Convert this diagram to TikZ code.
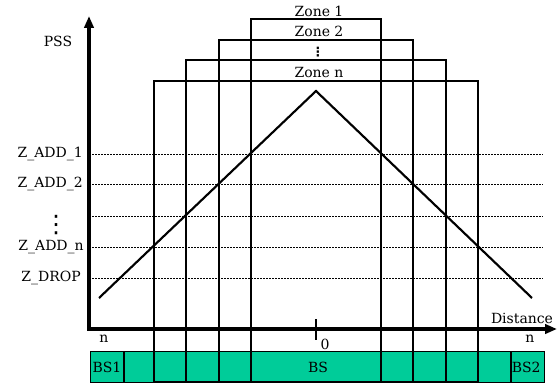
\documentclass[tikz,border=0pt]{standalone}
\usepackage{fontspec}
\setmainfont{DejaVu Serif}
\newfontfamily\dotsfont{DejaVu Sans}
\usetikzlibrary{arrows.meta}
\definecolor{bsgreen}{HTML}{00CC99}
\tikzset{
  thin line/.style={line width=0.8pt},
  axis line/.style={line width=2.4pt,-{Triangle[length=9pt,width=7pt]}},
  level line/.style={line width=0.75pt,dash pattern=on 1.5pt off 0.75pt},
  curve line/.style={line width=1.6pt},
  lbl/.style={font=\fontsize{10.5}{12}\selectfont,inner sep=0pt},
}
\begin{document}
\begin{tikzpicture}[x=0.75pt,y=-0.75pt]
\useasboundingbox (0,0) rectangle (557,385);
% BS bar
\node[draw,thin line,fill=bsgreen,minimum width=454*0.75pt,minimum height=31*0.75pt,inner sep=0pt,anchor=north west] (bar) at (90,351) {};
% zone rectangles
\coordinate (z1a) at (251,19); \coordinate (z1b) at (381,382);
\coordinate (z2a) at (219,40); \coordinate (z2b) at (413,382);
\coordinate (z3a) at (186,60); \coordinate (z3b) at (446,382);
\coordinate (zna) at (154,81); \coordinate (znb) at (478,382);
\draw[thin line] (z1a) rectangle (z1b);
\draw[thin line] (z2a) rectangle (z2b);
\draw[thin line] (z3a) rectangle (z3b);
\draw[thin line] (zna) rectangle (znb);
% BS dividers
\coordinate (d1a) at (124,351); \coordinate (d1b) at (124,382);
\coordinate (d2a) at (511,351); \coordinate (d2b) at (511,382);
\draw[thin line] (d1a) -- (d1b);
\draw[thin line] (d2a) -- (d2b);
\node[lbl] (bs1) at (107,367) {BS1};
\node[lbl] (bs) at (318,367) {BS};
\node[lbl,anchor=west] (bs2) at (511.5,367) {BS2};
% zone labels
\node[lbl] (zl1) at (319,11) {Zone 1};
\node[lbl] (zl2) at (319,31) {Zone 2};
\node[lbl] (zl3) at (318,52) {\dotsfont\bfseries\fontsize{9.5}{9.5}\selectfont ⋮};
\node[lbl] (zln) at (319,72) {Zone n};
% level lines
\foreach \n/\y in {a1/154,a2/184,ad/216,an/247,dr/278}{
  \coordinate (\n L) at (92,\y); \coordinate (\n R) at (543,\y);
  \draw[level line] (\n L) -- (\n R);
}
\node[lbl,anchor=east] (la1) at (83,154) {Z\_ADD\_1};
\node[lbl,anchor=east] (la2) at (83,184) {Z\_ADD\_2};
\node[lbl] (lad) at (56,225) {\dotsfont\fontsize{18}{18}\selectfont ⋮};
\node[lbl,anchor=east] (lan) at (84,247) {Z\_ADD\_n};
\node[lbl,anchor=east] (ldr) at (81,278) {Z\_DROP};
% triangle
\coordinate (tl) at (99,298); \coordinate (tp) at (316,91); \coordinate (tr) at (532,298);
\draw[curve line,line join=miter] (tl) -- (tp) -- (tr);
% axes
\coordinate (O) at (89,329); \coordinate (ytop) at (89,16); \coordinate (xend) at (557,329);
\draw[axis line] (O) -- (ytop);
\draw[axis line] ([xshift=-1.2pt]O) -- (xend);
\node[lbl] (pss) at (58,41) {PSS};
\node[lbl] (dist) at (522,318) {Distance};
% tick and marks
\coordinate (ta) at (316,319); \coordinate (tb) at (316,340);
\draw[line width=1pt] (ta) -- (tb);
\node[lbl] (zero) at (325,344) {0};
\node[lbl] (nl) at (104,339) {n};
\node[lbl] (nr) at (530,339) {n};
\end{tikzpicture}
\end{document}
